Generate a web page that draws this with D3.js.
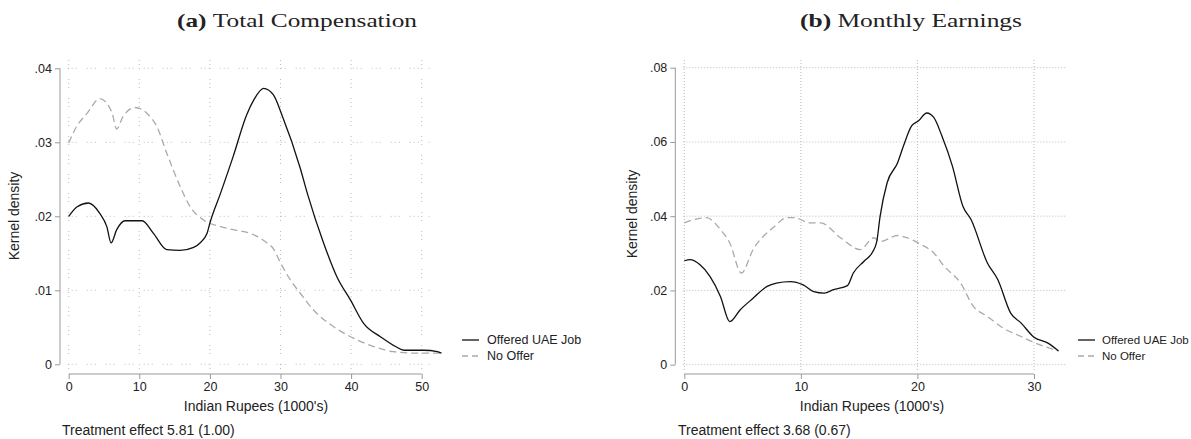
<!DOCTYPE html>
<html>
<head>
<meta charset="utf-8">
<script src="https://cdn.jsdelivr.net/npm/d3@7"></script>
<style>
  body { margin: 0; background: #fff; }
  svg text { font-family: "Liberation Sans", Arial, sans-serif; fill: #222; }
  .title text, text.title { font-family: "Liberation Serif", serif; }
</style>
</head>
<body>
<svg id="chart" width="1191" height="439"></svg>
<script>
// (a) Total Compensation: x in 1000's of rupees, density
const compOfferX = [0, 1.2, 2.8, 4.4, 5.4, 6.0, 6.8, 8.0, 10.4, 12.0, 13.9, 15.8, 17.7, 18.6, 19.6, 20.0, 21.5, 23.3, 25.2, 26.2, 27.6, 29.0, 30.2, 32.8, 33.8, 36.1, 38.0, 39.9, 41.8, 44.2, 46.3, 47.5, 50.3, 52.2, 52.8];
const compOfferY = [0.0200, 0.0213, 0.0218, 0.0204, 0.0186, 0.0164, 0.0182, 0.0194, 0.0194, 0.0177, 0.0155, 0.0154, 0.0158, 0.0164, 0.0177, 0.0191, 0.0231, 0.0281, 0.0337, 0.0357, 0.0373, 0.0364, 0.0337, 0.0265, 0.0231, 0.0164, 0.0118, 0.0087, 0.0055, 0.0037, 0.0024, 0.0019, 0.0019, 0.0017, 0.0015];
const compNoOfferX = [0, 1.1, 2.6, 4.4, 6.1, 6.8, 7.7, 9.4, 11.1, 12.5, 13.9, 15.8, 17.2, 19.1, 21.5, 23.3, 25.7, 28.1, 29.0, 30.0, 31.4, 32.8, 34.7, 37.5, 40.4, 43.2, 46.0, 49.8, 52.7];
const compNoOfferY = [0.0299, 0.0321, 0.0339, 0.0359, 0.0341, 0.0318, 0.0335, 0.0347, 0.0339, 0.0321, 0.0285, 0.0240, 0.0213, 0.0195, 0.0186, 0.0182, 0.0177, 0.0164, 0.0156, 0.0137, 0.0114, 0.0096, 0.0073, 0.0051, 0.0035, 0.0024, 0.0017, 0.0015, 0.0015];
const compXTicks = [0, 10, 20, 30, 40, 50];
const compYTicks = [0, 0.01, 0.02, 0.03, 0.04];

// (b) Monthly Earnings
const earnOfferX = [0, 0.5, 1.35, 2.2, 3.1, 3.9, 4.8, 5.9, 7.1, 7.9, 9.1, 10.2, 11.1, 12.0, 12.8, 14.0, 14.5, 15.4, 16.1, 16.5, 16.8, 17.4, 18.3, 18.8, 19.5, 20.1, 20.8, 21.4, 22.1, 23.0, 23.9, 24.6, 26.0, 26.9, 28.0, 28.9, 30.0, 31.2, 32.1];
const earnOfferY = [0.0280, 0.0283, 0.0269, 0.0238, 0.0184, 0.0116, 0.0148, 0.0179, 0.0211, 0.0220, 0.0224, 0.0215, 0.0197, 0.0193, 0.0202, 0.0213, 0.0247, 0.0278, 0.0301, 0.0330, 0.0400, 0.0490, 0.0544, 0.0589, 0.0643, 0.0657, 0.0678, 0.0666, 0.0616, 0.0535, 0.0427, 0.0391, 0.0274, 0.0229, 0.0139, 0.0112, 0.0074, 0.0058, 0.0037];
const earnNoOfferX = [0, 1.1, 1.9, 3.1, 3.9, 4.9, 5.9, 7.65, 8.8, 9.4, 10.8, 11.7, 13.4, 15.1, 16.25, 16.8, 18.3, 19.1, 20.3, 21.4, 22.3, 23.7, 24.8, 26.0, 27.4, 28.9, 30.0, 32.1];
const earnNoOfferY = [0.0382, 0.0393, 0.0396, 0.0364, 0.0328, 0.0247, 0.0310, 0.0370, 0.0396, 0.0396, 0.0382, 0.0382, 0.0342, 0.0310, 0.0342, 0.0332, 0.0348, 0.0342, 0.0324, 0.0301, 0.0265, 0.0220, 0.0157, 0.0130, 0.0098, 0.0076, 0.0060, 0.0037];
const earnXTicks = [0, 10, 20, 30];
const earnYTicks = [0, 0.02, 0.04, 0.06, 0.08];

const seriesNames = ["Offered UAE Job", "No Offer"];

const svg = d3.select("#chart");

const fmtY = (d) => (d === 0 ? "0" : d3.format(".2f")(d).replace(/^0/, ""));

const drawPanel = (p) => {
  const g = svg.append("g");
  const x = d3.scaleLinear().domain([0, p.xMax]).range([p.x0, p.x1]);
  const y = d3.scaleLinear().domain([0, p.yMax]).range([p.y0, p.y1]);

  // title (computer modern is wider, so stretch to its width)
  const t = g.append("text")
    .attr("class", "title")
    .attr("x", p.titleX)
    .attr("y", 27)
    .attr("text-anchor", "middle")
    .attr("textLength", p.titleW)
    .attr("lengthAdjust", "spacingAndGlyphs")
    .style("font-size", "19px");
  t.append("tspan").style("font-weight", "bold").text(p.label + " ");
  t.append("tspan").text(p.title);

  // grid
  g.selectAll(".hgrid")
    .data(p.yTicks)
    .enter()
    .append("line")
    .attr("x1", p.x0 - 1)
    .attr("x2", p.gridRight)
    .attr("y1", (d) => y(d))
    .attr("y2", (d) => y(d))
    .attr("stroke", "#bbb")
    .attr("stroke-width", 1)
    .attr("stroke-dasharray", p.gridDash);
  g.selectAll(".vgrid")
    .data(p.xTicks)
    .enter()
    .append("line")
    .attr("x1", (d) => x(d))
    .attr("x2", (d) => x(d))
    .attr("y1", 60)
    .attr("y2", p.y0 + 6)
    .attr("stroke", "#bbb")
    .attr("stroke-width", 1)
    .attr("stroke-dasharray", p.gridDash);

  // y axis
  const yAxis = g.append("g")
    .attr("transform", "translate(" + p.yAxisX + ",0)")
    .call(d3.axisLeft(y).tickValues(p.yTicks).tickFormat(fmtY).tickSize(5).tickPadding(3));
  yAxis.select(".domain").attr("d", "M0," + y(0) + "V" + y(p.yMax)).attr("stroke", "#999");
  yAxis.selectAll(".tick line").attr("stroke", "#999");
  yAxis.selectAll(".tick text").style("font-size", "12.5px").attr("fill", "#222");

  // x axis
  const xAxis = g.append("g")
    .attr("transform", "translate(0," + 374 + ")")
    .call(d3.axisBottom(x).tickValues(p.xTicks).tickSize(5).tickPadding(3));
  xAxis.select(".domain").attr("d", "M" + x(0) + ",0H" + x(p.xMax)).attr("stroke", "#999");
  xAxis.selectAll(".tick line").attr("stroke", "#999");
  xAxis.selectAll(".tick text").style("font-size", "12.5px").attr("fill", "#222");

  // axis titles
  g.append("text")
    .attr("transform", "translate(" + p.yTitleX + "," + p.yTitleY + ") rotate(-90)")
    .attr("text-anchor", "middle")
    .style("font-size", "14px")
    .text("Kernel density");
  g.append("text")
    .attr("x", p.xTitleX)
    .attr("y", 411)
    .attr("text-anchor", "middle")
    .style("font-size", "14px")
    .text("Indian Rupees (1000's)");
  g.append("text")
    .attr("x", p.noteX)
    .attr("y", 435)
    .style("font-size", "14px")
    .text(p.note);

  // curves
  const line = d3.line().x((d) => x(d[0])).y((d) => y(d[1])).curve(d3.curveMonotoneX);
  g.append("path")
    .datum(d3.zip(p.noX, p.noY))
    .attr("fill", "none")
    .attr("stroke", "#aaa")
    .attr("stroke-width", 1.3)
    .attr("stroke-dasharray", "7,4")
    .attr("d", line);
  g.append("path")
    .datum(d3.zip(p.offX, p.offY))
    .attr("fill", "none")
    .attr("stroke", "#111")
    .attr("stroke-width", 1.3)
    .attr("d", line);

  // legend
  const lg = g.append("g").attr("transform", "translate(" + p.legendX + ",340)");
  seriesNames.forEach((name, i) => {
    lg.append("line")
      .attr("x1", 0)
      .attr("x2", 17)
      .attr("y1", i * 16)
      .attr("y2", i * 16)
      .attr("stroke", i === 0 ? "#111" : "#aaa")
      .attr("stroke-width", 1.3)
      .attr("stroke-dasharray", i === 0 ? null : "6,4");
    lg.append("text")
      .attr("x", p.legendTextDx)
      .attr("y", i * 16 + 4)
      .style("font-size", p.legendFont)
      .text(name);
  });
};

drawPanel({
  label: "(a)", title: "Total Compensation", titleX: 297, titleW: 240,
  xMax: 50, yMax: 0.04, x0: 68.7, x1: 421.7, y0: 364.3, y1: 68.3,
  yAxisX: 60, gridRight: 432, gridDash: "1,3,1,3,1,10",
  xTicks: compXTicks, yTicks: compYTicks,
  offX: compOfferX, offY: compOfferY, noX: compNoOfferX, noY: compNoOfferY,
  yTitleX: 19, yTitleY: 216, xTitleX: 256, noteX: 62, note: "Treatment effect 5.81 (1.00)",
  legendX: 462, legendTextDx: 25, legendFont: "12.5px"
});

drawPanel({
  label: "(b)", title: "Monthly Earnings", titleX: 911, titleW: 222,
  xMax: 30, yMax: 0.08, x0: 684.3, x1: 1034, y0: 364.7, y1: 67.7,
  yAxisX: 675.3, gridRight: 1067, gridDash: "1,2",
  xTicks: earnXTicks, yTicks: earnYTicks,
  offX: earnOfferX, offY: earnOfferY, noX: earnNoOfferX, noY: earnNoOfferY,
  yTitleX: 637, yTitleY: 214, xTitleX: 872, noteX: 678, note: "Treatment effect 3.68 (0.67)",
  legendX: 1078, legendTextDx: 24, legendFont: "11.5px"
});
</script>
</body>
</html>
